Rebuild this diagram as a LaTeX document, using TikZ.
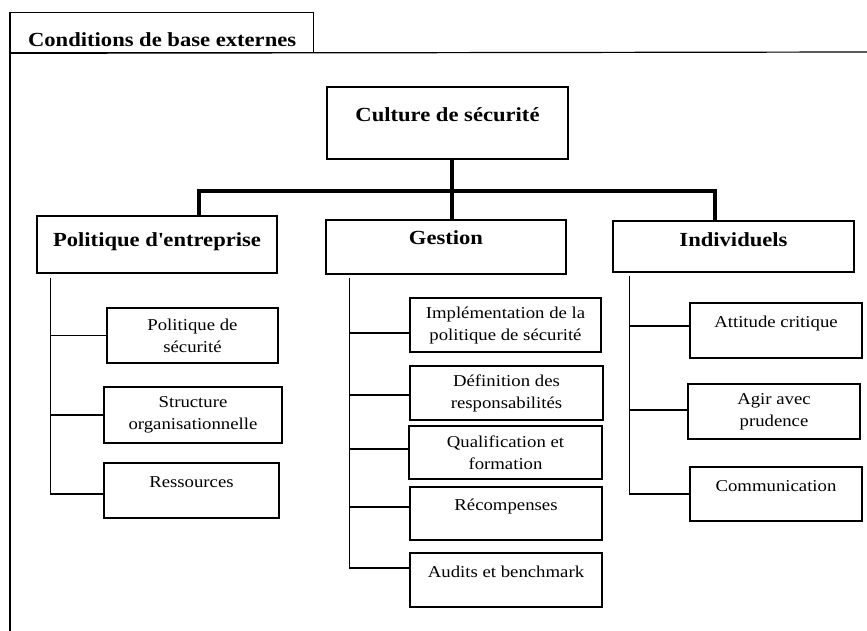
\documentclass[tikz,border=0pt]{standalone}
\usepackage{fontspec}
\setmainfont{Liberation Serif}[FakeStretch=1.13]
\usetikzlibrary{positioning, calc}
\tikzset{
    x=1pt, y=-1pt, % one unit per pixel, y runs down the page
    frame/.style={line width=1.2pt}, % outer frame lines
    box/.style={draw, line width=1.3pt, align=center}, % every framed box
    catbox/.style={box, font=\fontsize{20}{24}\selectfont\bfseries, text height=14pt, text depth=11pt}, % the bold boxes
    subbox/.style={box, font=\fontsize{16.6}{22}\selectfont}, % the small boxes
    oneline/.style={text height=12pt, text depth=18pt}, % pushes a single line up in its box
    trunk/.style={line width=3.5pt}, % thick tree lines
    branch/.style={line width=1.3pt}, % thin side lines
}

\begin{document}
\begin{tikzpicture}
    \useasboundingbox (0,0) rectangle (867,631);
    % frame with its tab
    \node[box, anchor=north west, minimum width=303pt, minimum height=40pt, inner ysep=0pt,
          text height=32pt, text depth=4pt, font=\fontsize{20}{24}\selectfont\bfseries] (tab) at (10,12) {Conditions de base externes};
    \coordinate (fbl) at (10,631);
    \coordinate (ftr) at (867,52);
    \draw[frame] (tab.north west) -- (fbl);
    \draw[frame] (tab.south west) -- (ftr);

    % top and the three groups
    \node[catbox, minimum width=241pt, minimum height=72pt, text depth=17pt] (culture) at (447.5,123) {Culture de sécurité};
    \node[catbox, minimum width=240pt, minimum height=57pt] (pe) at (157,244.5) {Politique d\textquotesingle entreprise};
    \node[catbox, minimum width=240pt, minimum height=54pt, text depth=19pt] (gestion) at (446,247) {Gestion};
    \node[catbox, minimum width=241pt, minimum height=51pt, text depth=15pt] (ind) at (733.5,246.5) {Individuels};

    % left column
    \node[subbox, minimum width=171pt, minimum height=55pt] (pds) at (192.5,335.5) {Politique de\\sécurité};
    \node[subbox, minimum width=178pt, minimum height=56pt] (so) at (193,415) {Structure\\organisationnelle};
    \node[subbox, oneline, minimum width=175pt, minimum height=55pt] (res) at (191.5,490.5) {Ressources};

    % middle column
    \node[subbox, minimum width=191pt, minimum height=54pt] (impl) at (505.5,325) {Implémentation de la\\politique de sécurité};
    \node[subbox, minimum width=193pt, minimum height=54pt] (def) at (506.5,393) {Définition des\\responsabilités};
    \node[subbox, minimum width=193pt, minimum height=53pt] (qual) at (505.5,452.5) {Qualification et\\formation};
    \node[subbox, oneline, minimum width=192pt, minimum height=53pt] (rec) at (506,513.5) {Récompenses};
    \node[subbox, oneline, minimum width=192pt, minimum height=54pt] (aud) at (506,580) {Audits et benchmark};

    % right column
    \node[subbox, oneline, minimum width=172pt, minimum height=55pt] (att) at (776,330.5) {Attitude critique};
    \node[subbox, minimum width=172pt, minimum height=55pt] (agir) at (774,411.5) {Agir avec\\prudence};
    \node[subbox, oneline, minimum width=172pt, minimum height=54pt] (comm) at (776,494) {Communication};

    % thick tree
    \coordinate (hub) at (452,191);
    \coordinate (barL) at (199,191);
    \coordinate (barR) at (715,191);
    \draw[trunk] (culture.south -| hub) -- (gestion.north -| hub);
    \draw[trunk] (pe.north -| barL) -- (barL) -- (barR) -- (ind.north -| barR);

    % side lines
    \coordinate (spL) at ($(pe.south west)+(14,4)$);
    \coordinate (spM) at ($(gestion.south west)+(24,3)$);
    \coordinate (spR) at ($(ind.south west)+(17,3)$);
    \foreach \n/\d in {pds/0, so/0, res/3.5} {
        \coordinate (\n-in) at ($(\n.west)+(0,\d)$);
        \draw[branch] (\n-in -| spL) -- (\n-in);
    }
    \foreach \n/\d in {impl/8, def/2, qual/-3.5, rec/-6.5, aud/-12} {
        \coordinate (\n-in) at ($(\n.west)+(0,\d)$);
        \draw[branch] (\n-in -| spM) -- (\n-in);
    }
    \foreach \n/\d in {att/-4.5, agir/-1.5, comm/0} {
        \coordinate (\n-in) at ($(\n.west)+(0,\d)$);
        \draw[branch] (\n-in -| spR) -- (\n-in);
    }
    \draw[branch] (spL) -- (res-in -| spL);
    \draw[branch] (spM) -- (aud-in -| spM);
    \draw[branch] (spR) -- (comm-in -| spR);
\end{tikzpicture}
\end{document}
